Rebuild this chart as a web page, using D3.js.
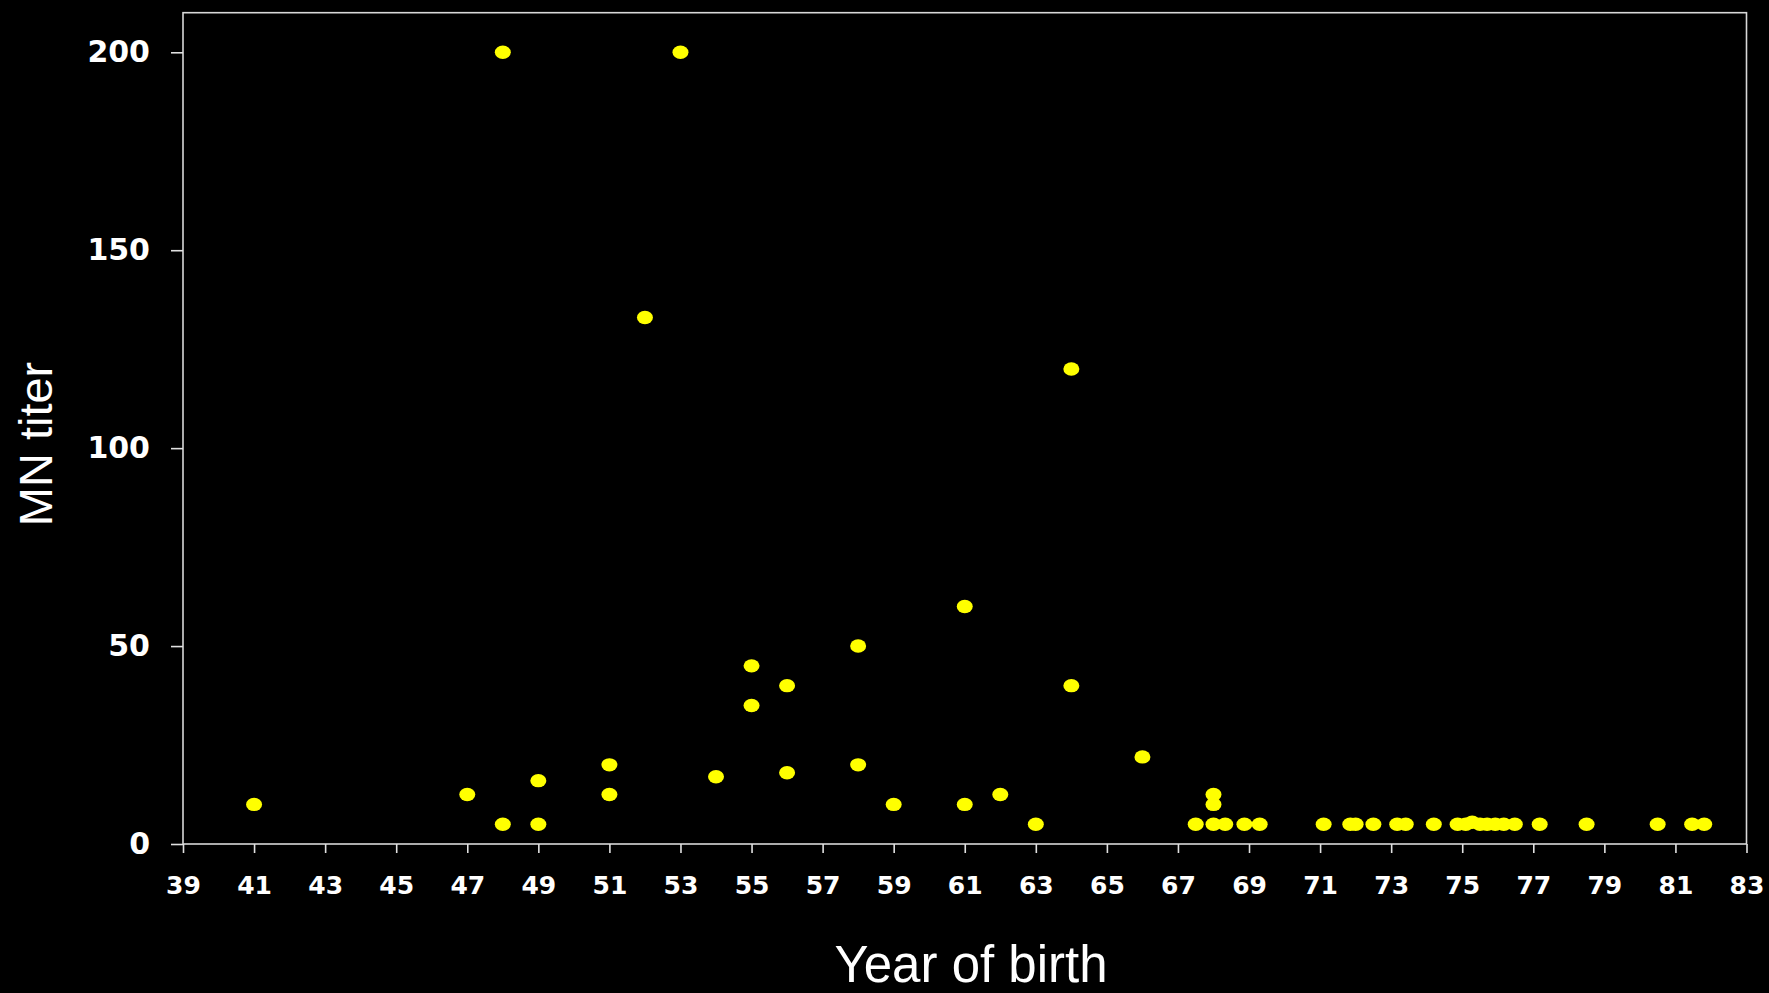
<!DOCTYPE html>
<html>
<head>
<meta charset="utf-8">
<script src="https://cdn.jsdelivr.net/npm/d3@7"></script>
<style>
  html, body { margin: 0; padding: 0; background: #000; }
</style>
</head>
<body>
<div id="chart"></div>
<script>
const width = 1769;
const height = 993;

const margin = {
    left: 183,
    right: 22.5,
    top: 12.7,
    bottom: 149
};

// year of birth (19xx) and MN titer
const years = [41, 47, 48, 48, 49, 49, 51, 51, 52, 53,
  54, 55, 55, 56, 56, 58, 58, 59, 61, 61,
  62, 63, 64, 64, 66, 67.5, 68, 68, 68, 68.33,
  68.87, 69.3, 71.1, 71.85, 72.0, 72.5, 73.17, 73.41, 74.2, 74.87,
  75.1, 75.28, 75.5, 75.7, 75.93, 76.17, 76.48, 77.18, 78.5, 80.5,
  81.47, 81.81];
const titers = [10, 12.5, 200, 5, 16, 5, 20, 12.5, 133, 200,
  17, 45, 35, 40, 18, 50, 20, 10, 60, 10,
  12.5, 5, 120, 40, 22, 5, 12.5, 10, 5, 5,
  5, 5, 5, 5, 5, 5, 5, 5, 5, 5,
  5, 5.5, 5, 5, 5, 5, 5, 5, 5, 5,
  5, 5];

const xTicks = d3.range(39, 84, 2);
const yTicks = [0, 50, 100, 150, 200];

const points = years.map((y, i) => ({ year: y, titer: titers[i] }));

const svg = d3.select("#chart").append("svg")
    .attr("width", width)
    .attr("height", height)
    .style("display", "block")
    .style("background", "#000");

const xScale = d3.scaleLinear()
    .domain([39, 83])
    .range([margin.left, width - margin.right]);

const yScale = d3.scaleLinear()
    .domain([0, 210])
    .range([height - margin.bottom, margin.top]);

// frame
svg.append("rect")
    .attr("x", margin.left)
    .attr("y", margin.top)
    .attr("width", width - margin.right - margin.left)
    .attr("height", height - margin.bottom - margin.top)
    .attr("fill", "none")
    .attr("stroke", "#d8d8d8")
    .attr("stroke-width", 1.6);

const xAxis = svg.append("g")
    .attr("class", "axis axis--x")
    .attr("transform", "translate(0," + (height - margin.bottom) + ")")
    .call(d3.axisBottom(xScale)
      .tickValues(xTicks)
      .tickSize(9)
      .tickPadding(23)
      .tickFormat(d3.format("d")));

const yAxis = svg.append("g")
    .attr("class", "axis axis--y")
    .attr("transform", "translate(" + margin.left + ",0)")
    .call(d3.axisLeft(yScale)
      .tickValues(yTicks)
      .tickSize(12)
      .tickPadding(21));

xAxis.selectAll(".domain").remove();
yAxis.selectAll(".domain").remove();

svg.selectAll(".axis .tick line")
    .attr("stroke", "#e0e0e0")
    .attr("stroke-width", 1.6);

xAxis.selectAll(".tick text")
    .attr("fill", "#fff")
    .style("font-family", "'DejaVu Sans', sans-serif")
    .style("font-weight", "bold")
    .style("font-size", "25px");

yAxis.selectAll(".tick text")
    .attr("fill", "#fff")
    .style("font-family", "'DejaVu Sans', sans-serif")
    .style("font-weight", "bold")
    .style("font-size", "30px");

svg.selectAll("ellipse.pt")
    .data(points)
    .join("ellipse")
      .attr("class", "pt")
      .attr("cx", d => xScale(d.year))
      .attr("cy", d => yScale(d.titer))
      .attr("rx", 8)
      .attr("ry", 6.7)
      .attr("fill", "#ffff00");

// axis titles
svg.append("text")
    .attr("text-anchor", "middle")
    .attr("transform", "translate(52,444) rotate(-90)")
    .attr("fill", "#fff")
    .style("font-family", "'Liberation Sans', Arial, sans-serif")
    .style("font-size", "47px")
    .text("MN titer");

svg.append("text")
    .attr("text-anchor", "middle")
    .attr("x", 971)
    .attr("y", 982)
    .attr("fill", "#fff")
    .style("font-family", "'Liberation Sans', Arial, sans-serif")
    .style("font-size", "51px")
    .text("Year of birth");
</script>
</body>
</html>
